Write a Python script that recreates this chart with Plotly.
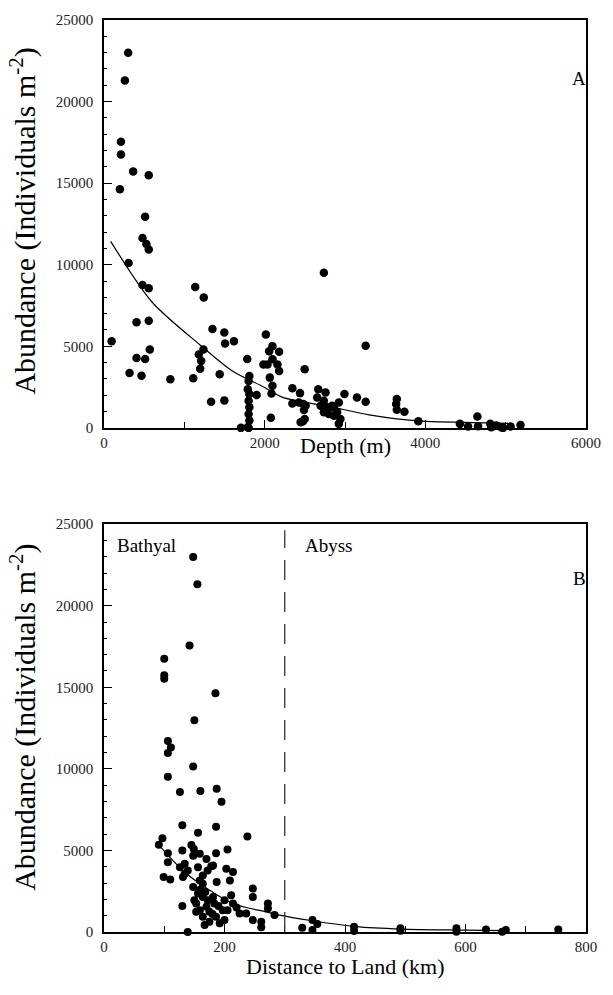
import plotly.graph_objects as go

# ---------------- Data ----------------
# Panel A: depth (m) vs abundance (individuals m^-2)
depth_m = [301, 260, 211, 211, 363, 557, 198, 512, 479, 528, 557, 306, 479, 557, 1135, 1242,
           405, 557, 95, 1350, 1498, 1507, 1618, 570, 405, 512, 318, 467, 826, 1111,
           1180, 1238, 1210, 1197, 1440, 1333, 1498, 1783, 1705, 1800, 1810, 1800, 1790,
           1810, 1800, 1810, 1800, 1810, 1790, 1900, 2015, 2097, 2056, 2180, 2097, 2035,
           2159, 2180, 2064, 2097, 2085, 2077, 1985, 2345, 2440, 2345, 2427, 2481, 2510,
           2489, 2477, 2498, 2448, 2498, 2667, 2758, 2654, 2737, 2696, 2778, 2737, 2861,
           2923, 2902, 2943, 2923, 2861, 2993, 3149, 2737, 3257, 3257, 3645, 3637, 3645,
           3740, 3913, 4430, 4532, 4648, 4656, 4808, 4821, 4883, 4945, 4966, 5061, 5185,
           2799, 2840]
abund_a = [22990, 21290, 17540, 16750, 15710, 15490, 14620, 12940, 11640, 11270, 10930, 10100,
           8760, 8560, 8640, 7990, 6470, 6570, 5310, 6060, 5840, 5170, 5310, 4805, 4280, 4220,
           3360, 3200, 2980, 3040, 4500, 4805, 4095, 3630, 3285, 1600, 1685, 4220, 0, 0, 3180,
           2880, 2370, 2070, 1660, 1260, 850, 445, 60, 2010, 5720, 5010, 4700, 4660, 4200,
           3890, 3890, 3485, 3080, 2575, 2110, 620, 3890, 2430, 2130, 1500, 1560, 1460, 1355,
           1095, 410, 550, 345, 3590, 2370, 2170, 1865, 1660, 1355, 1260, 955, 1260, 1560,
           955, 550, 245, 750, 2070, 1865, 9510, 5030, 1600, 1765, 1460, 1115, 990, 410, 245,
           80, 690, 100, 245, 40, 140, 40, 0, 80, 180, 850, 1355]
# Fitted curve, panel A
fit_a_depth = [83, 600, 1189, 1598, 1994, 2217, 2836, 3300, 3913, 4780, 5030]
fit_a_abund = [11435, 7700, 5110, 3485, 2494, 1886, 1277, 800, 426, 304, 270]

# Panel B: distance to land (km) vs abundance
dist_km = [148, 155, 142, 100, 100, 100, 185, 150, 106, 111, 106, 106, 148, 126, 160, 187, 195,
           130, 156, 186, 238, 97, 91, 130, 106, 106, 99, 110, 145, 149, 148, 159, 186, 205,
           170, 181, 172, 164, 126, 134, 139, 131, 156, 159, 164, 203, 214, 209, 187, 148,
           156, 153, 164, 172, 170, 181, 183, 175, 159, 153, 164, 186, 175, 167, 192, 200,
           197, 205, 211, 214, 130, 139, 247, 247, 225, 236, 247, 261, 261, 272, 272, 283,
           329, 346, 354, 346, 415, 415, 492, 492, 585, 585, 634, 661, 667, 754,
           178, 134, 160, 168, 150, 190, 180, 200, 220]
abund_b = [22990, 21310, 17560, 16750, 15740, 15530, 14640, 12980, 11700, 11310, 10970, 9510,
           10140, 8580, 8640, 8780, 7990, 6550, 6080, 6450, 5860, 5740, 5350, 4990, 4820, 4280,
           3365, 3225, 5330, 5090, 4680, 4790, 4820, 5050, 4480, 4080, 3770, 3470, 3970, 4180,
           3770, 3365, 3970, 3160, 2960, 3870, 3670, 3160, 3060, 2755, 2355, 1745, 2150, 1945,
           1540, 2150, 1745, 1235, 1340, 1235, 930, 930, 625, 425, 530, 730, 1340, 1340, 2250,
           1745, 1600, 0, 2660, 2150, 1135, 1135, 730, 625, 285, 1745, 1440, 1035,
           260, 730, 485, 120, 320, 60, 225, 80, 225, 20, 160, 20, 120, 160,
           4030, 3570, 2600, 2450, 1950, 1600, 1100, 1950, 1500]
# Fitted curve, panel B
fit_b_dist = [89, 137, 214, 269, 291, 346, 418, 494, 600, 666]
fit_b_abund = [5414, 3570, 1745, 1236, 1034, 690, 330, 182, 120, 80]

boundary_km = 300  # Bathyal / Abyss boundary

y_ticks = [0, 5000, 10000, 15000, 20000, 25000]
y_ticklabels = ["0", "5000", "10000", "15000", "20000", "25000"]
xa_ticks = [0, 2000, 4000, 6000]
xa_ticklabels = ["0", "2000", "4000", "6000"]
xb_ticks = [0, 200, 400, 600, 800]
xb_ticklabels = ["0", "200", "400", "600", "800"]

# ---------------- Figure ----------------
SERIF = "Liberation Serif, Times New Roman, serif"
fig = go.Figure()

mk = dict(color="black", size=8.5, line=dict(width=0))
fig.add_trace(go.Scatter(x=depth_m, y=abund_a, mode="markers", marker=mk,
                         xaxis="x", yaxis="y", cliponaxis=False, showlegend=False))
fig.add_trace(go.Scatter(x=fit_a_depth, y=fit_a_abund, mode="lines",
                         line=dict(color="black", width=1.2, shape="spline", smoothing=0.8),
                         xaxis="x", yaxis="y", showlegend=False))
fig.add_trace(go.Scatter(x=dist_km, y=abund_b, mode="markers", marker=dict(mk, size=8),
                         xaxis="x2", yaxis="y2", cliponaxis=False, showlegend=False))
fig.add_trace(go.Scatter(x=fit_b_dist, y=fit_b_abund, mode="lines",
                         line=dict(color="black", width=1.2, shape="spline", smoothing=0.8),
                         xaxis="x2", yaxis="y2", showlegend=False))

W, H = 613, 995
ml, mr, mt, mb = 104, 26, 13, 63
ph = H - mt - mb
pan_h = 411

tickfont = dict(family=SERIF, size=15, color="#222")
common = dict(showline=True, linecolor="black", linewidth=1.5, mirror=True,
              ticks="inside", ticklen=8, tickwidth=1, tickcolor="black",
              showgrid=False, zeroline=False, tickfont=tickfont, tickmode="array")

ydom_a = [(ph - pan_h) / ph, 1]
ydom_b = [0, pan_h / ph]

fig.update_layout(
    width=W, height=H,
    margin=dict(l=ml, r=mr, t=mt, b=mb),
    paper_bgcolor="white", plot_bgcolor="white",
    xaxis=dict(common, domain=[0, 1], anchor="y", range=[0, 6000],
               tickvals=xa_ticks, ticktext=xa_ticklabels,
               minor=dict(dtick=1000, ticklen=6, ticks="inside", tickcolor="black")),
    yaxis=dict(common, domain=ydom_a, anchor="x", range=[0, 25000],
               tickvals=y_ticks, ticktext=y_ticklabels, ticklabelstandoff=6,
               minor=dict(dtick=1000, ticklen=3, ticks="inside", tickcolor="black")),
    xaxis2=dict(common, domain=[0, 1], anchor="y2", range=[0, 800],
                tickvals=xb_ticks, ticktext=xb_ticklabels,
                minor=dict(dtick=100, ticklen=6, ticks="inside", tickcolor="black")),
    yaxis2=dict(common, domain=ydom_b, anchor="x2", range=[0, 25000],
                tickvals=y_ticks, ticktext=y_ticklabels, ticklabelstandoff=6,
                minor=dict(dtick=1000, ticklen=3, ticks="inside", tickcolor="black")),
)

fig.add_shape(type="line", xref="x2", yref="y2 domain", x0=boundary_km, x1=boundary_km,
              y0=0, y1=0.985, line=dict(color="#333", width=1.3, dash="20px,12px"))

def paper_y(py):
    return (H - mb - py) / ph

def paper_x(px):
    return (px - ml) / (W - ml - mr)

title_font = dict(family=SERIF, size=22, color="black")
ytitle_font = dict(family=SERIF, size=30, color="black")
lab_font = dict(family=SERIF, size=19, color="black")
ytitle = "Abundance (Individuals m<sup>-2</sup>)"
ann = [
    dict(text="Depth (m)", x=0.5, y=paper_y(442), font=title_font),
    dict(text="Distance to Land (km)", x=0.5, y=paper_y(967), font=title_font),
    dict(text=ytitle, x=paper_x(23), y=paper_y(216), font=ytitle_font, textangle=-90),
    dict(text=ytitle, x=paper_x(23), y=paper_y(716), font=ytitle_font, textangle=-90),
    dict(text="A", x=paper_x(580), y=paper_y(72), font=lab_font),
    dict(text="B", x=paper_x(580), y=paper_y(576), font=lab_font),
    dict(text="Bathyal", x=paper_x(115), y=paper_y(543), xanchor="left", font=lab_font),
    dict(text="Abyss", x=paper_x(303), y=paper_y(543), xanchor="left", font=lab_font),
]
for a in ann:
    a.setdefault("xanchor", "center")
    fig.add_annotation(xref="paper", yref="paper", yanchor="middle", showarrow=False, **a)

fig.write_html("out.html", config={"displayModeBar": False},
               post_script="document.body.style.margin='0';")
